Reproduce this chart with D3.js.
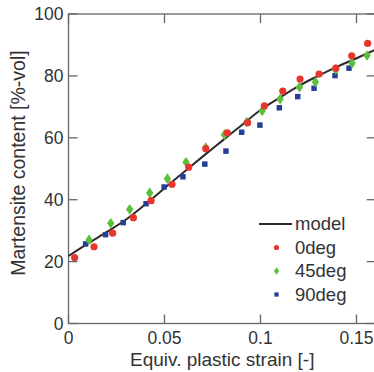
<!DOCTYPE html>
<html>
<head>
<meta charset="utf-8">
<script src="https://cdn.jsdelivr.net/npm/d3@7"></script>
<style>
  body { margin: 0; background: #fff; }
  svg { display: block; }
  text { font-family: "Liberation Sans", Arial, sans-serif; fill: #333; }
</style>
</head>
<body>
<svg id="chart"></svg>
<script>
const W = 374, H = 372;
const margin = { top: 14, left: 68.5, bottom: 48.5, right: -1.7 };
const plot_w = W - margin.left - margin.right,
    plot_h = H - margin.top - margin.bottom;

// model curve
const modelX = [0, 0.01, 0.02, 0.03, 0.04, 0.05, 0.06, 0.07, 0.08, 0.09, 0.10, 0.11, 0.12, 0.13, 0.14, 0.15, 0.16];
const modelY = [21.8, 25.8, 29.6, 33.6, 38.5, 43.7, 48.9, 54.0, 59.0, 64.0, 69.0, 73.0, 76.8, 80.0, 83.0, 85.7, 88.5];

// 0deg (red circles)
const deg0X = [0.0032, 0.0133, 0.0230, 0.0338, 0.0430, 0.0539, 0.0626, 0.0715, 0.0827, 0.0933, 0.1020, 0.1116, 0.1206, 0.1305, 0.1392, 0.1475, 0.1558];
const deg0Y = [21.3, 24.8, 29.2, 34.2, 39.7, 45.0, 50.5, 56.5, 61.6, 64.9, 70.3, 75.1, 79.0, 80.6, 82.5, 86.5, 90.5];

// 45deg (green diamonds)
const deg45X = [0.0107, 0.0220, 0.0319, 0.0423, 0.0515, 0.0612, 0.0715, 0.0812, 0.0928, 0.1009, 0.1102, 0.1203, 0.1286, 0.1392, 0.1477, 0.1555];
const deg45Y = [27.0, 32.4, 36.9, 42.2, 46.8, 52.1, 56.8, 61.0, 65.1, 68.7, 72.5, 76.4, 78.0, 82.1, 84.1, 86.6];

// 90deg (blue squares)
const deg90X = [0.0089, 0.0193, 0.0285, 0.0404, 0.0498, 0.0596, 0.0710, 0.0820, 0.0902, 0.0997, 0.1098, 0.1194, 0.1279, 0.1388, 0.1461];
const deg90Y = [25.7, 28.7, 32.6, 38.7, 44.1, 47.4, 51.5, 55.7, 61.8, 64.1, 69.7, 73.3, 76.0, 80.1, 82.5];

const xTicks = [0, 0.05, 0.1, 0.15];
const yTicks = [0, 20, 40, 60, 80, 100];
const legendNames = ["model", "0deg", "45deg", "90deg"];

const red = "#e8352e", green = "#5cbf3c", blue = "#263f96";
const axisColor = "#666";

const svg = d3.select("#chart").attr("width", W).attr("height", H);
const g = svg.append("g").attr("transform", `translate(${margin.left},${margin.top})`);

const x = d3.scaleLinear().domain([0, 0.16]).range([0, plot_w]);
const y = d3.scaleLinear().domain([0, 100]).range([plot_h, 0]);

// box
g.append("rect")
    .attr("width", plot_w).attr("height", plot_h)
    .attr("fill", "none").attr("stroke", axisColor).attr("stroke-width", 1.3);

const tickLen = 9;
// inward ticks on all four sides
xTicks.forEach(t => {
    g.append("line").attr("x1", x(t)).attr("x2", x(t)).attr("y1", plot_h).attr("y2", plot_h - tickLen)
        .attr("stroke", axisColor).attr("stroke-width", 1.3);
    g.append("line").attr("x1", x(t)).attr("x2", x(t)).attr("y1", 0).attr("y2", tickLen)
        .attr("stroke", axisColor).attr("stroke-width", 1.3);
});
yTicks.forEach(t => {
    g.append("line").attr("x1", 0).attr("x2", tickLen).attr("y1", y(t)).attr("y2", y(t))
        .attr("stroke", axisColor).attr("stroke-width", 1.3);
    g.append("line").attr("x1", plot_w).attr("x2", plot_w - tickLen).attr("y1", y(t)).attr("y2", y(t))
        .attr("stroke", axisColor).attr("stroke-width", 1.3);
});

// tick labels
g.selectAll(".xlab").data(xTicks).join("text")
    .attr("x", d => x(d)).attr("y", plot_h + 20)
    .attr("text-anchor", "middle").style("font-size", "17.5px")
    .text(d => d === 0 ? "0" : String(d));
g.selectAll(".ylab").data(yTicks).join("text")
    .attr("x", -5).attr("y", d => y(d)).attr("dy", "0.35em")
    .attr("text-anchor", "end").style("font-size", "17.5px")
    .text(d => d);

// axis titles
svg.append("text")
    .attr("x", margin.left + (376 - margin.left) / 2).attr("y", 366)
    .attr("text-anchor", "middle").style("font-size", "19px")
    .text("Equiv. plastic strain [-]");
svg.append("text")
    .attr("transform", "translate(25,163) rotate(-90)")
    .attr("text-anchor", "middle").style("font-size", "19.5px")
    .text("Martensite content [%-vol]");

// model line
const modelData = modelX.map((v, i) => [v, modelY[i]]);
g.append("path").datum(modelData)
    .attr("d", d3.line().x(d => x(d[0])).y(d => y(d[1])).curve(d3.curveMonotoneX))
    .attr("fill", "none").attr("stroke", "#2b2b2b").attr("stroke-width", 2);

// points
const sym = (type, size) => d3.symbol().type(type).size(size);
g.selectAll(".p90").data(deg90X.map((v, i) => [v, deg90Y[i]])).join("path")
    .attr("transform", d => `translate(${x(d[0])},${y(d[1])})`)
    .attr("d", sym(d3.symbolSquare, 30)).attr("fill", blue);
g.selectAll(".p45").data(deg45X.map((v, i) => [v, deg45Y[i]])).join("path")
    .attr("transform", d => `translate(${x(d[0])},${y(d[1])}) scale(0.8,1.15)`)
    .attr("d", sym(d3.symbolDiamond2, 55)).attr("fill", green);
g.selectAll(".p0").data(deg0X.map((v, i) => [v, deg0Y[i]])).join("circle")
    .attr("cx", d => x(d[0])).attr("cy", d => y(d[1])).attr("r", 3.6).attr("fill", red);

// legend
const lg = svg.append("g").attr("transform", "translate(259,224)");
const rowH = 23.5;
legendNames.forEach((name, i) => {
    const cy = i * rowH;
    if (i === 0) {
        lg.append("line").attr("x1", 0).attr("x2", 33).attr("y1", cy).attr("y2", cy)
            .attr("stroke", "#2b2b2b").attr("stroke-width", 2);
    } else if (i === 1) {
        lg.append("circle").attr("cx", 17.5).attr("cy", cy).attr("r", 2.6).attr("fill", red);
    } else if (i === 2) {
        lg.append("path").attr("transform", `translate(17.5,${cy}) scale(0.8,1.15)`)
            .attr("d", sym(d3.symbolDiamond2, 28)).attr("fill", green);
    } else {
        lg.append("path").attr("transform", `translate(17.5,${cy})`)
            .attr("d", sym(d3.symbolSquare, 18)).attr("fill", blue);
    }
    lg.append("text").attr("x", 36).attr("y", cy).attr("dy", "0.35em")
        .style("font-size", "18.5px").text(name);
});
</script>
</body>
</html>
